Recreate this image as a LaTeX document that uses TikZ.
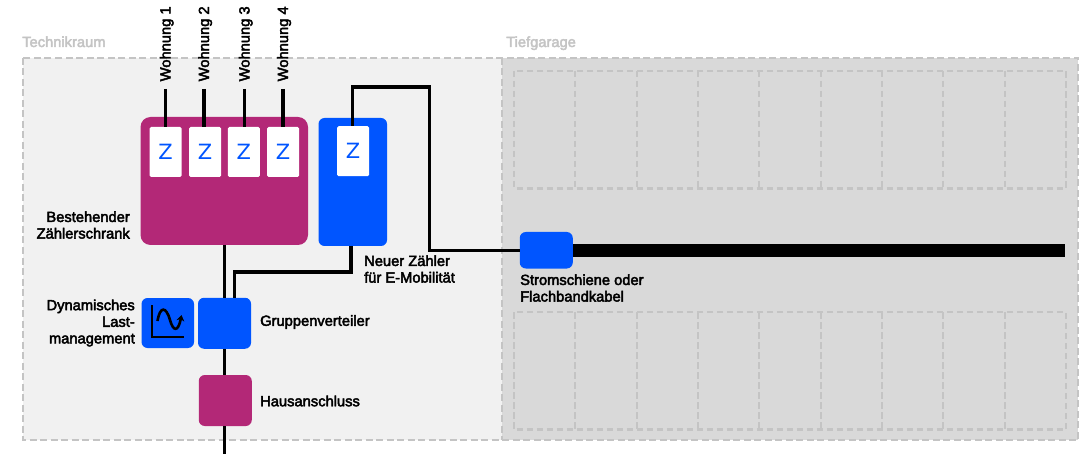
\documentclass[tikz,border=0pt]{standalone}
\usepackage{fontspec}
\usetikzlibrary{arrows.meta}
\setmainfont[FakeBold=3]{Liberation Sans}
\newfontfamily\zfont{DejaVu Sans}
\definecolor{magent}{HTML}{B32877}
\definecolor{blu}{HTML}{0055FF}
\definecolor{dash}{HTML}{C4C4C4}
\definecolor{roomlight}{HTML}{F1F1F1}
\definecolor{roomdark}{HTML}{D9D9D9}
\tikzset{
  box/.style={rounded corners=6pt, inner sep=0pt, minimum width=53pt, minimum height=51pt},
  magbox/.style={box, fill=magent},
  blubox/.style={box, fill=blu},
  zbox/.style={rounded corners=1.5pt, fill=white, text=blu, inner sep=0pt, minimum width=32pt,
    minimum height=50pt, font=\zfont\fontsize{21}{21}\selectfont},
  wire/.style={line width=3.4pt, black},
  room/.style={draw=dash, line width=2.4pt, dash pattern=on 7pt off 3.5pt},
  stall/.style={draw=dash, line width=2.2pt, dash pattern=on 6.5pt off 3.5pt},
  lbl/.style={inner sep=0pt, font=\fontsize{14.7}{16.6}\selectfont},
  roomlbl/.style={lbl, text=dash},
}
\begin{document}
\begin{tikzpicture}[x=1pt, y=-1pt]
      \useasboundingbox (0, 0) rectangle (1086, 454);
      % rooms
      \fill[roomlight] (23, 58) rectangle (502, 440);
      \fill[roomdark] (502, 58) rectangle (1078, 440);
      \draw[room] (23, 58) rectangle (1078, 440)
                  (502, 58) -- (502, 440);
      \node[roomlbl, anchor=base west] (technik) at (22, 47) {Technikraum};
      \node[roomlbl, anchor=base west] (garage) at (506, 47) {Tiefgarage};
      % parking stalls
      \foreach \y in {71, 312} {
        \draw[stall] (514, \y) rectangle (1066, \y + 117.5);
        \foreach \i in {1, ..., 8}
          \draw[stall] (514 + \i * 61.33, \y) -- (514 + \i * 61.33, \y + 117.5);
      }
      % cabinets
      \node[magbox, rounded corners=10pt, minimum width=167.5pt, minimum height=128pt] (schrank) at (224.25, 181) {};
      \node[blubox, minimum width=68.5pt, minimum height=128pt] (neu) at (352.75, 182) {};
      \node[blubox] (gruppe) at (224.5, 323.25) {};
      \node[blubox, minimum width=52.5pt, minimum height=50pt] (last) at (167.75, 323) {};
      \node[magbox] (haus) at (225.25, 400.5) {};
      \node[blubox, minimum height=36.5pt] (schiene) at (546.25, 250.25) {};
      % power lines
      \coordinate (t1) at (165.5, 89);
      \coordinate (t2) at (204, 89);
      \coordinate (t3) at (244.5, 89);
      \coordinate (t4) at (283, 89);
      \coordinate (einspeisung) at (224.5, 454);
      \coordinate (busende) at (1065, 250.75);
      \draw[wire] (224.5, 245) -- (gruppe.north -| 224.5, 0)
                  (gruppe.south) -- (gruppe.south |- haus.north)
                  (haus.south -| einspeisung) -- (einspeisung);
      \draw[wire] (351, 246) |- (234.5, 272) -- (234.5, 298);
      \draw[wire] (352.5, 126) |- (429.5, 87) |- (schiene.west);
      \draw[line width=12.5pt] (schiene.east |- busende) -- (busende);
      % meters
      \node[zbox] (z1) at (165.5, 152) {Z};
      \node[zbox] (z2) at (205, 152) {Z};
      \node[zbox] (z3) at (243.75, 152) {Z};
      \node[zbox] (z4) at (283, 152) {Z};
      \node[zbox] (z5) at (353, 151.25) {Z};
      \foreach \n in {1, 2, 3, 4}
        \draw[wire] (t\n) -- (t\n |- z\n.north);
      % apartments
      \foreach \n/\name in {1/1, 2/2, 3/3, 4/4}
        \node[lbl, rotate=90, anchor=base west] (w\n) at ([xshift=5pt]t\n |- 0, 81.5) {Wohnung \name};
      % load management icon
      \draw[line width=2.8pt] (152, 305) |- (184, 337);
      \draw[line width=2.6pt, -{Stealth[length=6pt, width=8pt]}] (157.5, 321) .. controls (160, 306) and (166, 306) .. (170, 320)
            .. controls (173, 331) and (178, 333) .. (181.5, 315);
      % labels
      \node[lbl, align=right, anchor=east] (lschrank) at (130, 225) {Bestehender\\Zählerschrank};
      \node[lbl, align=left, anchor=west] (lneu) at (364, 269) {Neuer Zähler\\für E-Mobilität};
      \node[lbl, align=right, anchor=east] (llast) at (135, 323) {Dynamisches\\Last-\\management};
      \node[lbl, anchor=west] (lgruppe) at (260, 322) {Gruppenverteiler};
      \node[lbl, anchor=west] (lhaus) at (260, 401) {Hausanschluss};
      \node[lbl, align=left, anchor=west] (lschiene) at (520, 288) {Stromschiene oder\\Flachbandkabel};
\end{tikzpicture}
\end{document}
